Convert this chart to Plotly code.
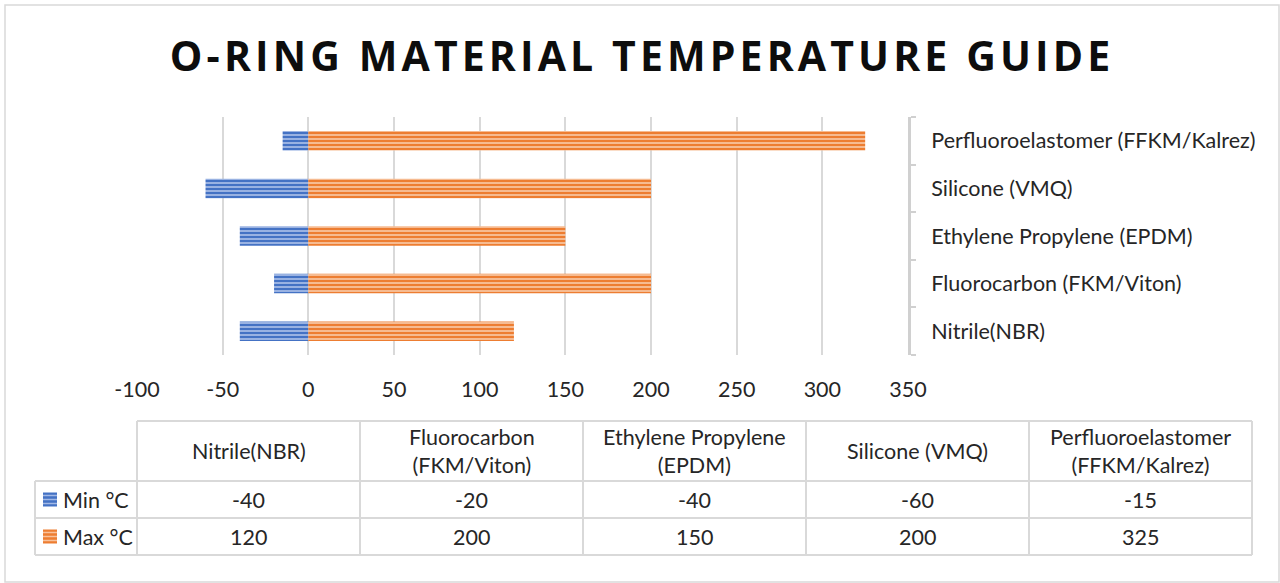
import plotly.graph_objects as go

# Materials (bottom to top on the chart) and their service temperature limits
materials = [
    "Nitrile(NBR)",
    "Fluorocarbon (FKM/Viton)",
    "Ethylene Propylene (EPDM)",
    "Silicone (VMQ)",
    "Perfluoroelastomer (FFKM/Kalrez)",
]
min_temp = [-40, -20, -40, -60, -15]
max_temp = [120, 200, 150, 200, 325]
series_names = ["Min °C", "Max °C"]
x_ticks = [-100, -50, 0, 50, 100, 150, 200, 250, 300, 350]
title_text = "O-RING MATERIAL TEMPERATURE GUIDE"

BLUE, BLUE_LIGHT = "#4472C4", "#a3b9e6"
ORANGE, ORANGE_LIGHT = "#ED7D31", "#f8c29c"
GRID = "#d9d9d9"
TEXT = "#262626"
FONT = "Lato"
FS = 21.5

FIG_W, FIG_H = 1280, 583
PL, PR, PT, PB = 137, 908, 117, 355  # plot area in pixels


def px(x):
    return (x - PL) / (PR - PL)


def py(y):
    return (PB - y) / (PB - PT)


def striped(color, light):
    return dict(
        color=color,
        line=dict(width=0),
        pattern=dict(shape="-", bgcolor=color, fgcolor=light,
                     size=4, solidity=0.45, fillmode="replace"),
    )


fig = go.Figure()
fig.add_trace(go.Bar(y=materials, x=min_temp, orientation="h", name=series_names[0],
                     marker=striped(BLUE, BLUE_LIGHT), width=0.41))
fig.add_trace(go.Bar(y=materials, x=max_temp, orientation="h", name=series_names[1],
                     marker=striped(ORANGE, ORANGE_LIGHT), width=0.41))

shapes = []
annotations = []

# Outer frame
shapes.append(dict(type="rect", xref="paper", yref="paper",
                   x0=px(5), x1=px(1279), y0=py(5), y1=py(582),
                   line=dict(color=GRID, width=1.5), layer="below"))

# Data table below the chart
col_edges = [137 + i * 223 for i in range(len(materials) + 1)]
row_top, header_bot, row_mid, row_bot = 421, 481, 518, 555
label_left = 35
line_style = dict(color=GRID, width=2)


def hline(x0, x1, y):
    shapes.append(dict(type="line", xref="paper", yref="paper",
                       x0=px(x0), x1=px(x1), y0=py(y), y1=py(y), line=line_style))


def vline(x, y0, y1):
    shapes.append(dict(type="line", xref="paper", yref="paper",
                       x0=px(x), x1=px(x), y0=py(y0), y1=py(y1), line=line_style))


hline(col_edges[0], col_edges[-1], row_top)
hline(label_left, col_edges[-1], header_bot)
hline(label_left, col_edges[-1], row_mid)
hline(label_left, col_edges[-1], row_bot)
for x in col_edges:
    vline(x, row_top, row_bot)
vline(label_left, header_bot, row_bot)


def header_text(name):
    if len(name) > 15 and " " in name:
        head, tail = name.rsplit(" ", 1)
        return head + "<br>" + tail
    return name


def cell_text(x, y, text, anchor="center"):
    annotations.append(dict(xref="paper", yref="paper", x=px(x), y=py(y),
                            text=text, showarrow=False, xanchor=anchor,
                            yanchor="middle",
                            font=dict(family=FONT, size=FS, color=TEXT)))


for i, name in enumerate(materials):
    cx = (col_edges[i] + col_edges[i + 1]) / 2
    cell_text(cx, (row_top + header_bot) / 2, header_text(name))
    cell_text(cx, (header_bot + row_mid) / 2, str(min_temp[i]))
    cell_text(cx, (row_mid + row_bot) / 2, str(max_temp[i]))

# Row labels with striped legend keys
for (y0, y1), label, (c, lc) in zip(
        [(header_bot, row_mid), (row_mid, row_bot)], series_names,
        [(BLUE, BLUE_LIGHT), (ORANGE, ORANGE_LIGHT)]):
    cy = (y0 + y1) / 2
    shapes.append(dict(type="rect", xref="paper", yref="paper",
                       x0=px(43), x1=px(57), y0=py(cy - 7), y1=py(cy + 7),
                       fillcolor=c, line=dict(width=0)))
    for k in range(3):
        yy = cy - 4 + k * 4
        shapes.append(dict(type="line", xref="paper", yref="paper",
                           x0=px(43), x1=px(57), y0=py(yy), y1=py(yy),
                           line=dict(color=lc, width=1.5)))
    cell_text(61, cy, label, anchor="left")

# Title, letter-spaced using hair spaces
spaced_title = "\u200a".join(title_text)

fig.update_layout(
    width=FIG_W, height=FIG_H,
    margin=dict(l=PL, r=FIG_W - PR, t=PT, b=FIG_H - PB),
    paper_bgcolor="white", plot_bgcolor="white",
    barmode="relative", showlegend=False,
    font=dict(family=FONT, color=TEXT, size=FS),
    title=dict(text="<b>" + spaced_title + "</b>",
               x=0.5, xref="container", xanchor="center",
               y=1 - 57 / FIG_H, yref="container", yanchor="middle",
               font=dict(family="Open Sans", size=41, color="#0d0d0d")),
    xaxis=dict(range=[x_ticks[0], x_ticks[-1]], tickvals=x_ticks,
               ticktext=[str(v) for v in x_ticks],
               showgrid=True, gridcolor=GRID, gridwidth=2,
               zeroline=False, showline=False, ticks="",
               ticklabelstandoff=19,
               tickfont=dict(family=FONT, size=FS, color=TEXT)),
    yaxis=dict(type="category", side="right", categoryorder="array",
               categoryarray=materials, showgrid=False, zeroline=False,
               showline=True, linecolor="#d0d0d0", linewidth=3,
               ticks="outside", tickson="boundaries", ticklen=5,
               tickcolor="#d0d0d0", tickwidth=2, ticklabelstandoff=16,
               tickfont=dict(family=FONT, size=FS, color=TEXT)),
    shapes=shapes, annotations=annotations,
)

fig.write_html("out.html")
